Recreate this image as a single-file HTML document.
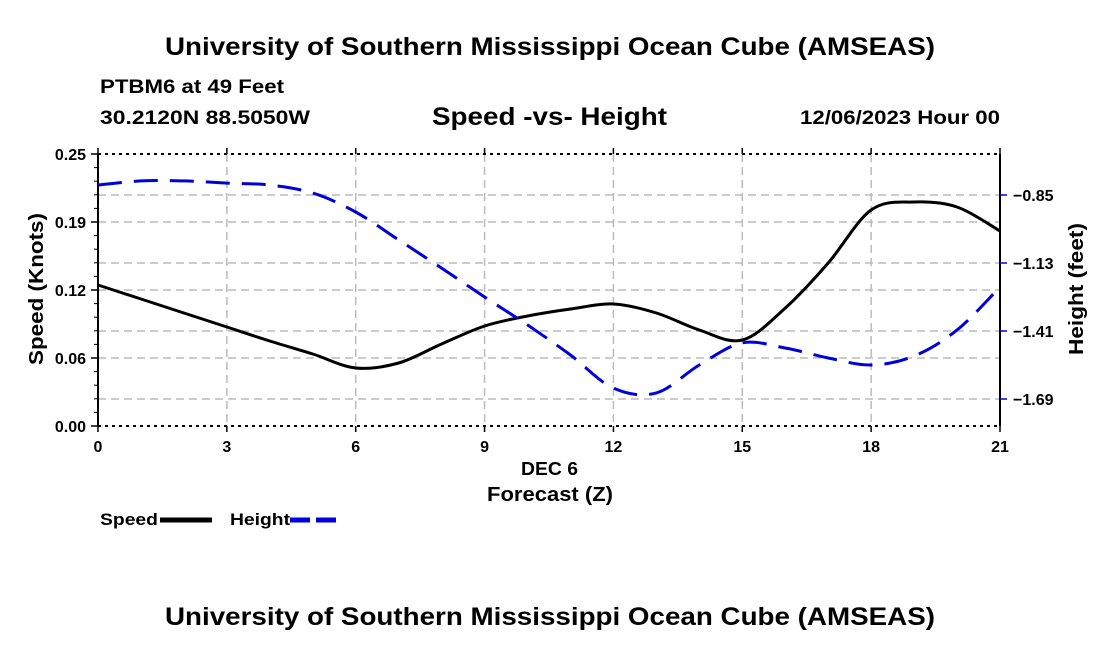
<!DOCTYPE html>
<html><head><meta charset="utf-8"><style>
body{margin:0;background:#fff;}
svg{display:block;font-family:"Liberation Sans",Arial,sans-serif;font-weight:bold;}
</style></head><body>
<svg width="1100" height="650" viewBox="0 0 1100 650">
<text x="550" y="55" text-anchor="middle" font-size="25" textLength="770" lengthAdjust="spacingAndGlyphs">University of Southern Mississippi Ocean Cube (AMSEAS)</text>
<text x="100" y="93" font-size="19" textLength="184" lengthAdjust="spacingAndGlyphs">PTBM6 at 49 Feet</text>
<text x="100" y="124" font-size="19" textLength="210" lengthAdjust="spacingAndGlyphs">30.2120N  88.5050W</text>
<text x="432" y="125" font-size="25" textLength="235" lengthAdjust="spacingAndGlyphs">Speed -vs- Height</text>
<text x="800" y="124" font-size="19" textLength="200" lengthAdjust="spacingAndGlyphs">12/06/2023 Hour 00</text>
<g id="grid"></g>
<g id="axes"></g>
<g id="series"></g>
<text x="521" y="475" font-size="18" textLength="57" lengthAdjust="spacingAndGlyphs">DEC 6</text>
<text x="487" y="501" font-size="20" textLength="126" lengthAdjust="spacingAndGlyphs">Forecast (Z)</text>
<text transform="translate(43,289) rotate(-90)" x="-76" font-size="20" textLength="152" lengthAdjust="spacingAndGlyphs">Speed (Knots)</text>
<text transform="translate(1083,289) rotate(-90)" x="-66" font-size="20" textLength="132" lengthAdjust="spacingAndGlyphs">Height (feet)</text>
<g>
<text x="100" y="525" font-size="17" textLength="58" lengthAdjust="spacingAndGlyphs">Speed</text>
<line x1="160" y1="520" x2="212" y2="520" stroke="#000" stroke-width="5"/>
</g>
<g>
<text x="230" y="525" font-size="17" textLength="60" lengthAdjust="spacingAndGlyphs">Height</text>
<line x1="290" y1="520" x2="342" y2="520" stroke="#0000dd" stroke-width="5" stroke-dasharray="20,6"/>
</g>
<text x="550" y="625" text-anchor="middle" font-size="25" textLength="770" lengthAdjust="spacingAndGlyphs">University of Southern Mississippi Ocean Cube (AMSEAS)</text>
</svg>
<script>
const hours=[0,1,2,3,4,5,6,7,8,9,10,11,12,13,14,15,16,17,18,19,20,21];
const speed=[0.1296,0.1167,0.1039,0.0910,0.0781,0.0662,0.0533,0.0579,0.0754,0.0919,0.1011,0.1075,0.1121,0.1039,0.0882,0.0790,0.1084,0.1498,0.1985,0.2059,0.2013,0.1792];
const height=[-0.809,-0.792,-0.792,-0.801,-0.809,-0.842,-0.920,-1.035,-1.151,-1.270,-1.385,-1.509,-1.645,-1.665,-1.550,-1.459,-1.480,-1.521,-1.550,-1.513,-1.406,-1.229];
const xTicks=[0,3,6,9,12,15,18,21];
const leftTicks=[0,0.0625,0.125,0.1875,0.25];
const leftLabels=["0.00","0.06","0.12","0.19","0.25"];
const rightTicks=[-0.85,-1.13,-1.41,-1.69];
const rightLabels=["\u22120.85","\u22121.13","\u22121.41","\u22121.69"];
const X0=98,X1=1000,Y0=154,Y1=426;
const xs=h=>X0+(h-0)/(21-0)*(X1-X0);
const yl=v=>Y1-v/0.25*(Y1-Y0);
const yr=v=>195+(-0.85-v)/0.28*68;
const NS="http://www.w3.org/2000/svg";
function mk(p,t,a){const e=document.createElementNS(NS,t);for(const k in a)e.setAttribute(k,a[k]);p.appendChild(e);return e;}
const grid=document.getElementById('grid'),axes=document.getElementById('axes'),ser=document.getElementById('series');
const gs={stroke:"#bbb","stroke-width":1.5,"stroke-dasharray":"8,5"};
xTicks.slice(1,-1).forEach(h=>{const l=mk(grid,'line',Object.assign({x1:xs(h),x2:xs(h),y1:Y0,y2:Y1},gs));

});
leftTicks.slice(1,-1).forEach(v=>{const l=mk(grid,'line',Object.assign({x1:X0,x2:X1,y1:yl(v),y2:yl(v)},gs));

});
rightTicks.forEach(v=>{const l=mk(grid,'line',Object.assign({x1:X0,x2:X1,y1:yr(v),y2:yr(v)},gs));

});
mk(axes,'line',{x1:X0,x2:X1,y1:Y0,y2:Y0,stroke:"#000","stroke-width":2,"stroke-dasharray":"3,4"});
mk(axes,'line',{x1:X0,x2:X1,y1:Y1,y2:Y1,stroke:"#000","stroke-width":2,"stroke-dasharray":"3,4"});
mk(axes,'line',{x1:X0,x2:X0,y1:Y0,y2:Y1,stroke:"#000","stroke-width":2});
mk(axes,'line',{x1:X1,x2:X1,y1:Y0,y2:Y1,stroke:"#000","stroke-width":2});
xTicks.forEach(h=>{mk(axes,'line',{x1:xs(h),x2:xs(h),y1:Y0-6,y2:Y0,stroke:"#000","stroke-width":1.5});
mk(axes,'line',{x1:xs(h),x2:xs(h),y1:Y1,y2:Y1+6,stroke:"#000","stroke-width":1.5});
const t=mk(axes,'text',{x:xs(h),y:Y1+26,"text-anchor":"middle","font-size":16});t.textContent=h;

});
leftTicks.forEach((v,i)=>{mk(axes,'line',{x1:X0-7,x2:X0,y1:yl(v),y2:yl(v),stroke:"#000","stroke-width":1.5});
const t=mk(axes,'text',{x:X0-12,y:yl(v)+6,"text-anchor":"end","font-size":16});t.textContent=leftLabels[i];

});
for(let i=0;i<=20;i++){const y=Y1-i*(Y1-Y0)/20;mk(axes,'line',{x1:X0-4,x2:X0,y1:y,y2:y,stroke:"#000","stroke-width":1});}
rightTicks.forEach((v,i)=>{mk(axes,'line',{x1:X1,x2:X1+7,y1:yr(v),y2:yr(v),stroke:"#0000dd","stroke-width":1.5});
const t=mk(axes,'text',{x:X1+13,y:yr(v)+6,"font-size":16});t.textContent=rightLabels[i];

});
function path(vals,yf){const p=hours.map((h,i)=>[xs(h),yf(vals[i])]);let d='M'+p[0][0].toFixed(1)+','+p[0][1].toFixed(1);
for(let i=0;i<p.length-1;i++){const a=p[Math.max(0,i-1)],b=p[i],c=p[i+1],e=p[Math.min(p.length-1,i+2)];
const c1x=b[0]+(c[0]-a[0])/6,c1y=b[1]+(c[1]-a[1])/6,c2x=c[0]-(e[0]-b[0])/6,c2y=c[1]-(e[1]-b[1])/6;
d+=' C'+c1x.toFixed(1)+','+c1y.toFixed(1)+' '+c2x.toFixed(1)+','+c2y.toFixed(1)+' '+c[0].toFixed(1)+','+c[1].toFixed(1);}
return d;}
const sp=mk(ser,'path',{d:path(speed,yl),fill:"none",stroke:"#000","stroke-width":3,"stroke-linejoin":"round"});


const hp=mk(ser,'path',{d:path(height,yr),fill:"none",stroke:"#0000dd","stroke-width":3,"stroke-dasharray":"24,12"});


</script>
</body></html>
